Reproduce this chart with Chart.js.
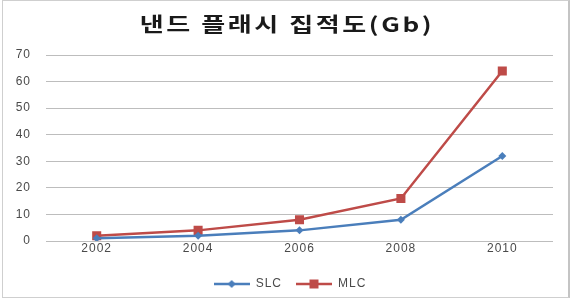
<!DOCTYPE html>
<html>
<head>
<meta charset="utf-8">
<script src="https://cdn.jsdelivr.net/npm/chart.js@4.4.1/dist/chart.umd.min.js"></script>
<style>
    body { margin: 0; background: #fff; }
    #wrap { position: relative; width: 574px; height: 300px; }
    #frame {
        position: absolute; left: 2px; top: 0; width: 565px; height: 296px;
        border: 1px solid #cfcfcf; border-right: 2px solid #c4c4c4;
    }
    canvas { position: absolute; left: 0; top: 0; }
</style>
</head>
<body>
<div id="wrap">
    <div id="frame"></div>
    <canvas id="chart" width="574" height="300"></canvas>
</div>
<script>
// Data
const years = ['2002', '2004', '2006', '2008', '2010']
const slcValues = [1, 2, 4, 8, 32]
const mlcValues = [2, 4, 8, 16, 64]
const titleText = '낸드 플래시 집적도(Gb)'

const blue = '#4a7ebb'
const red = '#be4b48'

// Legend swatch: line with marker in the middle
function legendSwatch(color, shape) {
    const c = document.createElement('canvas')
    c.width = 36
    c.height = 12
    const g = c.getContext('2d')
    g.strokeStyle = color
    g.lineWidth = 2.5
    g.beginPath()
    g.moveTo(0, 6)
    g.lineTo(36, 6)
    g.stroke()
    g.fillStyle = color
    g.beginPath()
    if (shape === 'diamond') {
        g.moveTo(18, 2); g.lineTo(22, 6); g.lineTo(18, 10); g.lineTo(14, 6)
    } else {
        g.rect(13.5, 1.5, 9, 9)
    }
    g.fill()
    return c
}

const swatches = [legendSwatch(blue, 'diamond'), legendSwatch(red, 'square')]

// The reference text is wide: spread letters a bit, stretch the title.
// Title and legend are centred on the whole canvas, not the padded box.
const spacingPlugin = {
    id: 'spacing',
    beforeDraw(chart) {
        chart.ctx.letterSpacing = '1px'
    },
    afterLayout(chart) {
        const w = chart.width
        ;[chart.titleBlock, chart.legend].forEach(box => {
            if (box) {
                box.left = 0
                box.right = w
                box.width = w
            }
        })
        const tb = chart.titleBlock
        if (tb && !tb._wrapped) {
            const orig = tb.draw.bind(tb)
            tb.draw = function() {
                const ctx = chart.ctx
                const cx = w / 2
                ctx.save()
                ctx.letterSpacing = '2px'
                ctx.translate(cx, 0)
                ctx.scale(1.3, 1)
                ctx.translate(-cx, 0)
                orig()
                ctx.restore()
            }
            tb._wrapped = true
        }
    },
    afterDraw(chart) {
        chart.ctx.letterSpacing = '0px'
    }
}

const ctx = document.getElementById('chart').getContext('2d')

new Chart(ctx, {
    type: 'line',
    data: {
        labels: years,
        datasets: [
            {
                label: 'SLC',
                data: slcValues,
                borderColor: blue,
                backgroundColor: blue,
                borderWidth: 2.5,
                pointStyle: 'rectRot',
                pointRadius: 4,
                pointBorderWidth: 0,
                tension: 0
            },
            {
                label: 'MLC',
                data: mlcValues,
                borderColor: red,
                backgroundColor: red,
                borderWidth: 2.5,
                pointStyle: 'rect',
                pointRadius: 6.4,
                pointBorderWidth: 0,
                tension: 0
            }
        ]
    },
    options: {
        responsive: false,
        animation: false,
        layout: { padding: { left: 0, right: 21, top: 0, bottom: 0 } },
        scales: {
            x: {
                offset: true,
                grid: { display: false, drawTicks: false },
                border: { display: false },
                ticks: {
                    color: '#4a4a4a',
                    padding: 0,
                    font: { family: 'Liberation Sans', size: 12 }
                },
                afterFit(scale) { scale.height = 23 }
            },
            y: {
                min: 0,
                max: 70,
                ticks: {
                    stepSize: 10,
                    color: '#4a4a4a',
                    padding: 15,
                    font: { family: 'Liberation Sans', size: 12 }
                },
                grid: { color: '#bdbdbd', lineWidth: 1, drawTicks: false },
                border: { display: false },
                afterFit(scale) { scale.width = 46 }
            }
        },
        plugins: {
            title: {
                display: true,
                text: titleText,
                color: '#1a1a1a',
                font: { family: 'Noto Sans CJK KR', size: 20, weight: 'bold' },
                padding: { top: 12, bottom: 19 }
            },
            legend: {
                position: 'bottom',
                labels: {
                    usePointStyle: true,
                    pointStyleWidth: 36,
                    boxHeight: 12,
                    padding: 14,
                    color: '#4a4a4a',
                    font: { family: 'Liberation Sans', size: 12 },
                    generateLabels(chart) {
                        return chart.data.datasets.map((ds, i) => ({
                            text: ds.label,
                            pointStyle: swatches[i],
                            fillStyle: ds.borderColor,
                            strokeStyle: ds.borderColor,
                            fontColor: '#4a4a4a',
                            lineWidth: 0,
                            hidden: false,
                            datasetIndex: i
                        }))
                    }
                }
            },
            tooltip: { enabled: false }
        }
    },
    plugins: [spacingPlugin]
})
</script>
</body>
</html>
